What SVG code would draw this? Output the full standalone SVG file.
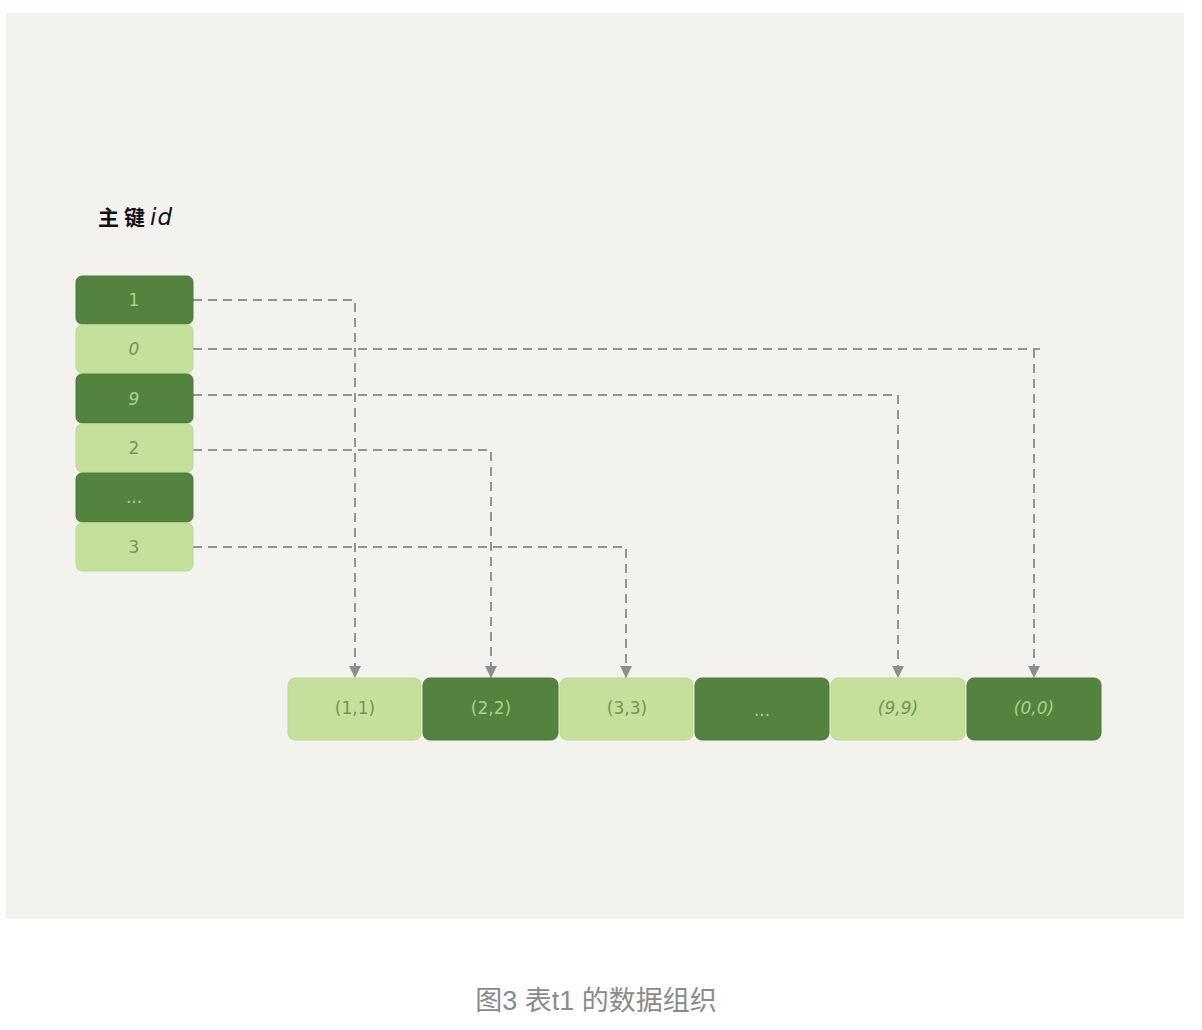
<svg xmlns="http://www.w3.org/2000/svg" width="1202" height="1030" viewBox="0 0 1202 1030">
<defs>
<style>
.dk{fill:#548340;stroke:#4d7a3a;stroke-width:1}
.lt{fill:#c4e09c;stroke:#bcd996;stroke-width:1}
.tdk{fill:#a9d28a;font-family:"DejaVu Sans","Noto Sans",sans-serif;font-size:17px;text-anchor:middle}
.tlt{fill:#6f9656;font-family:"DejaVu Sans","Noto Sans",sans-serif;font-size:17px;text-anchor:middle}
.ln{fill:none;stroke:#939393;stroke-width:2;stroke-dasharray:9,6}
</style>
<marker id="ah" viewBox="0 0 10 10" refX="10" refY="5" markerWidth="12" markerHeight="12" markerUnits="userSpaceOnUse" orient="auto">
<path d="M0,0 L10,5 L0,10 Z" fill="#8e8e8e"/>
</marker>
</defs>
<rect x="0" y="0" width="1202" height="1030" fill="#ffffff"/>
<rect x="6" y="13" width="1178" height="906" fill="#f3f2ee"/>
<text x="98" y="225" font-family="'Noto Sans CJK SC',sans-serif" font-weight="bold" font-size="21" fill="#111" letter-spacing="5">主键<tspan font-family="'DejaVu Sans',sans-serif" font-style="italic" font-weight="normal" font-size="23" letter-spacing="1">id</tspan></text>
<g id="connectors">
<path class="ln" d="M193,300 H355 V678" marker-end="url(#ah)"/>
<path class="ln" d="M193,349 H1040 M1034,349 V678" marker-end="url(#ah)"/>
<path class="ln" d="M193,395 H898 V678" marker-end="url(#ah)"/>
<path class="ln" d="M193,450 H491 V678" marker-end="url(#ah)"/>
<path class="ln" d="M193,547 H626 V678" marker-end="url(#ah)"/>
</g>
<g id="k1"><rect class="dk" x="76" y="276" width="117" height="48" rx="6"/><text class="tdk" x="134" y="306">1</text></g>
<g id="k0"><rect class="lt" x="76" y="325" width="117" height="48" rx="6"/><text class="tlt" x="134" y="355" font-style="italic">0</text></g>
<g id="k9"><rect class="dk" x="76" y="374" width="117" height="49" rx="6"/><text class="tdk" x="134" y="405" font-style="italic">9</text></g>
<g id="k2"><rect class="lt" x="76" y="424" width="117" height="48" rx="6"/><text class="tlt" x="134" y="454">2</text></g>
<g id="kd"><rect class="dk" x="76" y="473" width="117" height="49" rx="6"/><text class="tdk" x="134" y="503" font-size="13">...</text></g>
<g id="k3"><rect class="lt" x="76" y="523" width="117" height="48" rx="6"/><text class="tlt" x="134" y="553">3</text></g>
<g id="r11"><rect class="lt" x="288" y="678" width="133" height="62" rx="7"/><text class="tlt" x="355" y="714">(1,1)</text></g>
<g id="r22"><rect class="dk" x="423" y="678" width="135" height="62" rx="7"/><text class="tdk" x="491" y="714">(2,2)</text></g>
<g id="r33"><rect class="lt" x="560" y="678" width="133" height="62" rx="7"/><text class="tlt" x="627" y="714">(3,3)</text></g>
<g id="rd"><rect class="dk" x="695" y="678" width="134" height="62" rx="7"/><text class="tdk" x="762" y="716" font-size="13">...</text></g>
<g id="r99"><rect class="lt" x="831" y="678" width="134" height="62" rx="7"/><text class="tlt" x="898" y="714" font-style="italic">(9,9)</text></g>
<g id="r00"><rect class="dk" x="967" y="678" width="134" height="62" rx="7"/><text class="tdk" x="1034" y="714" font-style="italic">(0,0)</text></g>
<text x="596" y="1010" text-anchor="middle" font-family="'Liberation Sans','Noto Sans CJK SC',sans-serif" font-size="27" fill="#8a8a8a">图3 表t1 的数据组织</text>
</svg>
